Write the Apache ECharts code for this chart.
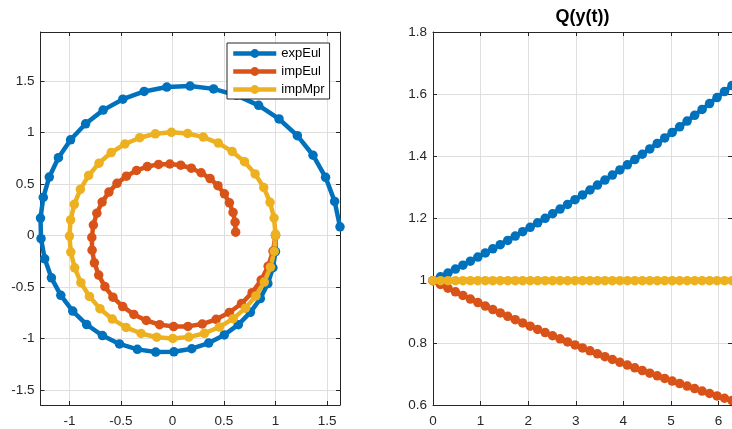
<!DOCTYPE html>
<html><head><meta charset="utf-8">
<script src="https://cdn.jsdelivr.net/npm/echarts@6/dist/echarts.min.js"></script>
<style>html,body{margin:0;padding:0;background:#fff}#c{width:732px;height:429px}</style>
</head><body><div id="c"></div>
<script>
const seriesNames = ['expEul', 'impEul', 'impMpr'];
const seriesColors = ['#0072BD', '#D95319', '#EDB120'];

const expEulX = [1, 1, 0.975, 0.926, 0.853, 0.756, 0.639, 0.503, 0.351, 0.187, 0.014, -0.163, -0.341, -0.515, -0.680, -0.833, -0.968, -1.084, -1.175, -1.240, -1.276, -1.281, -1.254, -1.196, -1.107, -0.989, -0.843, -0.673, -0.482, -0.275, -0.055, 0.171, 0.399, 0.622, 0.836, 1.034, 1.212, 1.364, 1.486, 1.574, 1.626];
const expEulY = [0, -0.157, -0.314, -0.467, -0.613, -0.747, -0.866, -0.966, -1.045, -1.100, -1.130, -1.132, -1.106, -1.053, -0.972, -0.865, -0.734, -0.582, -0.412, -0.227, -0.032, 0.168, 0.369, 0.566, 0.754, 0.928, 1.083, 1.216, 1.322, 1.397, 1.440, 1.449, 1.422, 1.359, 1.262, 1.130, 0.968, 0.778, 0.564, 0.330, 0.083];

const impEulX = [1, 0.976, 0.929, 0.861, 0.773, 0.670, 0.552, 0.424, 0.289, 0.150, 0.011, -0.125, -0.254, -0.375, -0.483, -0.578, -0.656, -0.716, -0.758, -0.780, -0.783, -0.768, -0.734, -0.683, -0.617, -0.538, -0.447, -0.349, -0.244, -0.135, -0.026, 0.080, 0.183, 0.278, 0.365, 0.441, 0.504, 0.553, 0.588, 0.608, 0.613];
const impEulY = [0, -0.153, -0.299, -0.434, -0.556, -0.661, -0.748, -0.814, -0.860, -0.883, -0.885, -0.866, -0.826, -0.767, -0.691, -0.600, -0.497, -0.385, -0.266, -0.143, -0.020, 0.101, 0.216, 0.323, 0.420, 0.505, 0.575, 0.630, 0.668, 0.689, 0.693, 0.681, 0.652, 0.608, 0.551, 0.482, 0.403, 0.316, 0.223, 0.128, 0.031];

const impMprX = [1, 0.988, 0.951, 0.891, 0.810, 0.708, 0.589, 0.456, 0.311, 0.159, 0.003, -0.153, -0.305, -0.450, -0.584, -0.704, -0.806, -0.889, -0.949, -0.987, -1.000, -0.989, -0.953, -0.894, -0.814, -0.713, -0.595, -0.462, -0.318, -0.166, -0.010, 0.147, 0.299, 0.445, 0.579, 0.699, 0.802, 0.886, 0.947, 0.986, 1.000];
const impMprY = [0, -0.156, -0.308, -0.453, -0.587, -0.706, -0.808, -0.890, -0.950, -0.987, -1.000, -0.988, -0.952, -0.893, -0.812, -0.711, -0.592, -0.459, -0.315, -0.162, -0.006, 0.150, 0.302, 0.447, 0.582, 0.701, 0.804, 0.887, 0.948, 0.986, 1.000, 0.989, 0.954, 0.896, 0.815, 0.715, 0.597, 0.465, 0.321, 0.169, 0.013];

const tValues = [0, 0.1571, 0.3142, 0.4712, 0.6283, 0.7854, 0.9425, 1.0996, 1.2566, 1.4137, 1.5708, 1.7279, 1.8850, 2.0420, 2.1991, 2.3562, 2.5133, 2.6704, 2.8274, 2.9845, 3.1416, 3.2987, 3.4558, 3.6128, 3.7699, 3.9270, 4.0841, 4.2412, 4.3982, 4.5553, 4.7124, 4.8695, 5.0265, 5.1836, 5.3407, 5.4978, 5.6549, 5.8119, 5.9690, 6.1261, 6.2832];
const qExpEul = [1, 1.0123, 1.0247, 1.0372, 1.0500, 1.0628, 1.0759, 1.0891, 1.1024, 1.1159, 1.1296, 1.1435, 1.1575, 1.1717, 1.1860, 1.2006, 1.2153, 1.2302, 1.2453, 1.2606, 1.2760, 1.2917, 1.3075, 1.3235, 1.3398, 1.3562, 1.3728, 1.3897, 1.4067, 1.4239, 1.4414, 1.4591, 1.4770, 1.4951, 1.5134, 1.5320, 1.5508, 1.5698, 1.5890, 1.6085, 1.6282];
const qImpEul = [1, 0.9879, 0.9759, 0.9641, 0.9524, 0.9409, 0.9295, 0.9182, 0.9071, 0.8961, 0.8853, 0.8745, 0.8639, 0.8535, 0.8431, 0.8329, 0.8228, 0.8129, 0.8030, 0.7933, 0.7837, 0.7742, 0.7648, 0.7556, 0.7464, 0.7374, 0.7284, 0.7196, 0.7109, 0.7023, 0.6938, 0.6854, 0.6771, 0.6689, 0.6608, 0.6528, 0.6448, 0.6370, 0.6293, 0.6217, 0.6142];
const qImpMpr = [1, 1, 1, 1, 1, 1, 1, 1, 1, 1, 1, 1, 1, 1, 1, 1, 1, 1, 1, 1, 1, 1, 1, 1, 1, 1, 1, 1, 1, 1, 1, 1, 1, 1, 1, 1, 1, 1, 1, 1, 1];

const leftXTicks = [-1, -0.5, 0, 0.5, 1, 1.5];
const leftYTicks = [-1.5, -1, -0.5, 0, 0.5, 1, 1.5];
const rightXTicks = [0, 1, 2, 3, 4, 5, 6];
const rightYTicks = [0.6, 0.8, 1, 1.2, 1.4, 1.6, 1.8];
const rightTitle = 'Q(y(t))';

const FONT = '"Liberation Sans", Arial, Helvetica, sans-serif';
const AX = '#262626';

function pairs(xs, ys) { return xs.map((x, i) => [x, ys[i]]); }

function mkAxis(gridIndex, position, min, max, ticks, main, margin) {
  return {
    type: 'value', gridIndex, position, min, max,
    axisLine: { show: true, onZero: false, lineStyle: { color: AX, width: 1 } },
    axisTick: { show: true, inside: true, length: 4, customValues: ticks, lineStyle: { color: AX, width: 1 } },
    axisLabel: { show: main, customValues: ticks, color: AX, fontSize: 13.5, fontFamily: FONT, margin: margin },
    splitLine: { show: main, lineStyle: { color: '#dfdfdf', width: 1 } }
  };
}

function mkSeries(i, xi, yi, data) {
  return {
    type: 'line', name: seriesNames[i], xAxisIndex: xi, yAxisIndex: yi, data,
    symbol: 'circle', symbolSize: 9.5, showSymbol: true, clip: false,
    lineStyle: { width: 4.5, color: seriesColors[i] },
    itemStyle: { color: seriesColors[i] },
    emphasis: { disabled: true }, silent: true, animation: false
  };
}

const chart = echarts.init(document.getElementById('c'), null, { renderer: 'canvas' });
chart.setOption({
  animation: false,
  backgroundColor: '#fff',
  grid: [
    { left: 40.5, top: 32, width: 299.5, height: 373 },
    { left: 433, top: 32, width: 299.5, height: 373 }
  ],
  xAxis: [
    mkAxis(0, 'bottom', -1.281, 1.626, leftXTicks, true, 9),
    mkAxis(0, 'top', -1.281, 1.626, leftXTicks, false, 8),
    mkAxis(1, 'bottom', 0, 6.2832, rightXTicks, true, 9),
    mkAxis(1, 'top', 0, 6.2832, rightXTicks, false, 8)
  ],
  yAxis: [
    mkAxis(0, 'left', -1.646, 1.974, leftYTicks, true, 6),
    mkAxis(0, 'right', -1.646, 1.974, leftYTicks, false, 8),
    mkAxis(1, 'left', 0.6, 1.8, rightYTicks, true, 6),
    mkAxis(1, 'right', 0.6, 1.8, rightYTicks, false, 8)
  ],
  legend: {
    data: seriesNames, orient: 'vertical', left: 227, top: 43,
    padding: [4, 5, 3, 4], itemGap: 5, itemWidth: 43, itemHeight: 11,
    backgroundColor: '#fff', borderColor: AX, borderWidth: 1, borderRadius: 0,
    textStyle: { fontSize: 13, color: '#000', fontFamily: FONT },
    lineStyle: { width: 4.5 }, selectedMode: false
  },
  graphic: [{
    type: 'text', x: 582.5, y: 17.5,
    style: { text: rightTitle, fill: '#000', fontSize: 18, fontWeight: 'bold', fontFamily: FONT, align: 'center', verticalAlign: 'middle' }
  }],
  series: [
    mkSeries(0, 0, 0, pairs(expEulX, expEulY)),
    mkSeries(1, 0, 0, pairs(impEulX, impEulY)),
    mkSeries(2, 0, 0, pairs(impMprX, impMprY)),
    mkSeries(0, 2, 2, pairs(tValues, qExpEul)),
    mkSeries(1, 2, 2, pairs(tValues, qImpEul)),
    mkSeries(2, 2, 2, pairs(tValues, qImpMpr))
  ]
});
</script></body></html>
